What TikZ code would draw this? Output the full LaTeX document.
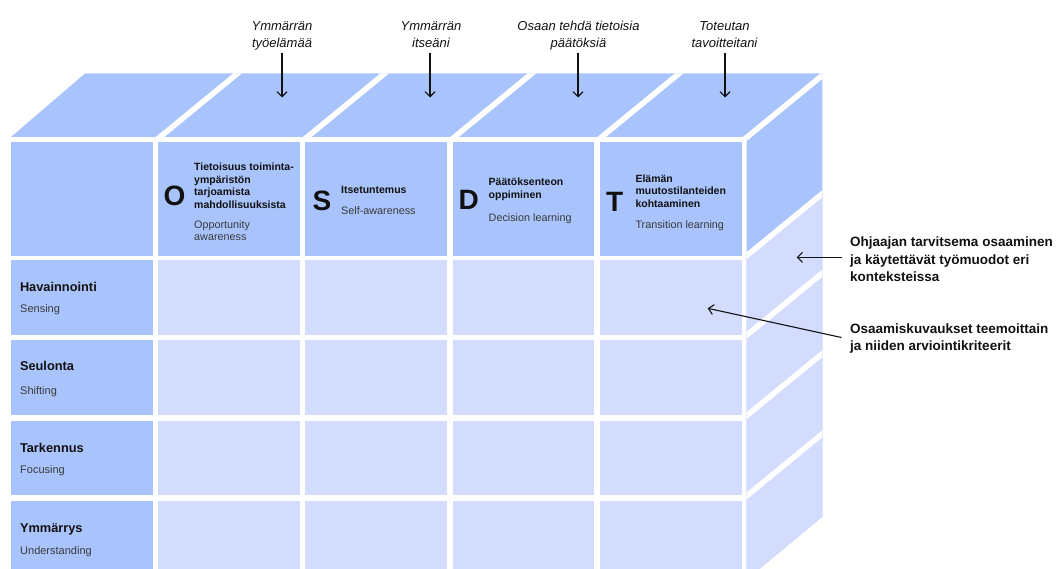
\documentclass[tikz,border=0pt]{standalone}
\usepackage{fontspec}
\setmainfont{Liberation Sans}
\usetikzlibrary{arrows.meta}

\definecolor{facedark}{HTML}{A9C4FC}
\definecolor{facelight}{HTML}{D3DCFD}
\definecolor{ink}{HTML}{111111}
\definecolor{subink}{HTML}{3A3A3A}

\begin{document}
\begin{tikzpicture}[x=1pt,y=-1pt,
  dark/.style={fill=facedark},
  light/.style={fill=facelight},
  gapline/.style={draw=white,line width=5.5pt},
  % multi-line nodes below are placed by the baseline of their last line
  bigletter/.style={font=\fontsize{28}{28}\selectfont\bfseries,text=ink,inner sep=0pt,anchor=base west},
  headttl/.style={font=\fontsize{10.5}{12.6}\selectfont\bfseries,text=ink,align=left,inner sep=0pt,anchor=base west},
  headsub/.style={font=\fontsize{10.8}{11.8}\selectfont,text=subink,align=left,inner sep=0pt,anchor=base west},
  rowttl/.style={font=\fontsize{12.8}{14}\selectfont\bfseries,text=ink,inner sep=0pt,anchor=base west},
  rowsub/.style={font=\fontsize{11}{13}\selectfont,text=subink,inner sep=0pt,anchor=base west},
  toplab/.style={font=\fontsize{13}{17.6}\selectfont\itshape,text=ink,align=center,inner sep=0pt,text depth=5.5pt,anchor=south},
  sidelab/.style={font=\fontsize{13.5}{17.6}\selectfont\bfseries,text=ink,align=left,inner sep=0pt,anchor=base west},
  arr/.style={-{Straight Barb[length=5pt,width=10pt]},line width=1.1pt,draw=ink}]

\useasboundingbox (0,0) rectangle (1059,569);

% ---- top face and side face of the block ----
\fill[dark] (11,137) -- (85,73.5) -- (822.3,73.5) -- (822.3,516.7) -- (746.7,579.5) -- (746.7,137) -- cycle;
\begin{scope}
  \clip (11,137) -- (85,73.5) -- (822.3,73.5) -- (822.3,516.7) -- (746.7,579.5) -- (746.7,137) -- cycle;
  % lighter bands on the side face below the header band
  \fill[light] (744.2,257.7) -- (844.2,175.65) -- (844.2,620) -- (744.2,620) -- cycle;
  % dividers of the top face, one per column, and the front-top edge of the side
  \foreach \gx in {157,304.2,451.4,598.6,744.2}
    \draw[gapline] (\gx-12,139.5+9.85) -- (\gx+100,139.5-82.05);
  % dividers of the side face, one per row
  \foreach \gy in {257.7,337.2,417.7,497.9}
    \draw[gapline] (744.2,\gy) -- (844.2,\gy-82.05);
\end{scope}

% ---- front face: header row, row labels and grid cells ----
\foreach \xa/\xb [count=\c from 0] in {11/152.8,158.2/300,305.4/447.2,452.6/594.4,599.8/741.6}{
  \fill[dark] (\xa,142) rectangle (\xb,255.5);
  \foreach \ya/\yb in {260/334.5,340.2/414.7,420.6/494.9,501/580}{
    \ifnum\c=0
      \fill[dark] (\xa,\ya) rectangle (\xb,\yb);
    \else
      \fill[light] (\xa,\ya) rectangle (\xb,\yb);
    \fi
  }
}

% ---- column headers ----
\node[bigletter] (letO) at (163.5,206) {O};
\node[headttl] (ttlO) at (194,208.3) {Tietoisuus toiminta-\\ympäristön\\tarjoamista\\mahdollisuuksista};
\node[headsub] (subO) at (194,240.7) {Opportunity\\awareness};

\node[bigletter] (letS) at (312.5,211) {S};
\node[headttl] (ttlS) at (341,193.1) {Itsetuntemus};
\node[headsub] (subS) at (341,214.9) {Self-awareness};

\node[bigletter] (letD) at (458.5,210) {D};
\node[headttl] (ttlD) at (488.5,198.6) {Päätöksenteon\\oppiminen};
\node[headsub] (subD) at (488.5,221.5) {Decision learning};

\node[bigletter] (letT) at (606,211.5) {T};
\node[headttl] (ttlT) at (635.3,207.3) {Elämän\\muutostilanteiden\\kohtaaminen};
\node[headsub] (subT) at (635.3,228.8) {Transition learning};

% ---- row labels ----
\node[rowttl] (r1) at (19.8,291.9) {Havainnointi};
\node[rowsub] (r1s) at (20,312.3) {Sensing};
\node[rowttl] (r2) at (19.8,370.6) {Seulonta};
\node[rowsub] (r2s) at (20,394) {Shifting};
\node[rowttl] (r3) at (19.8,452.9) {Tarkennus};
\node[rowsub] (r3s) at (20,473) {Focusing};
\node[rowttl] (r4) at (19.8,532.9) {Ymmärrys};
\node[rowsub] (r4s) at (20,554.7) {Understanding};

% ---- outcome labels above the columns ----
\node[toplab] (q1) at (282,53.5) {Ymmärrän\\työelämää};
\node[toplab] (q2) at (431,53.5) {Ymmärrän\\itseäni};
\node[toplab] (q3) at (578.5,53.5) {Osaan tehdä tietoisia\\päätöksiä};
\node[toplab] (q4) at (724.5,53.5) {Toteutan\\tavoitteitani};
\coordinate (h1) at (282,97.5);
\coordinate (h2) at (430,97.5);
\coordinate (h3) at (578,97.5);
\coordinate (h4) at (725,97.5);
\draw[arr] (q1.south -| h1) -- (h1);
\draw[arr] (q2.south -| h2) -- (h2);
\draw[arr] (q3.south -| h3) -- (h3);
\draw[arr] (q4.south -| h4) -- (h4);

% ---- explanations on the right ----
\node[sidelab] (e1) at (850,281.8) {Ohjaajan tarvitsema osaaminen\\ja käytettävät työmuodot eri\\konteksteissa};
\node[sidelab] (e2) at (850,350.8) {Osaamiskuvaukset teemoittain\\ja niiden arviointikriteerit};
\coordinate (p1) at (796.7,257.3);
\coordinate (p2) at (707.7,308.3);
\draw[arr] ([xshift=-8.5pt]e1.west |- p1) -- (p1);
\draw[arr] ([xshift=-8.5pt,yshift=1pt]e2.west) -- (p2);

\end{tikzpicture}
\end{document}
